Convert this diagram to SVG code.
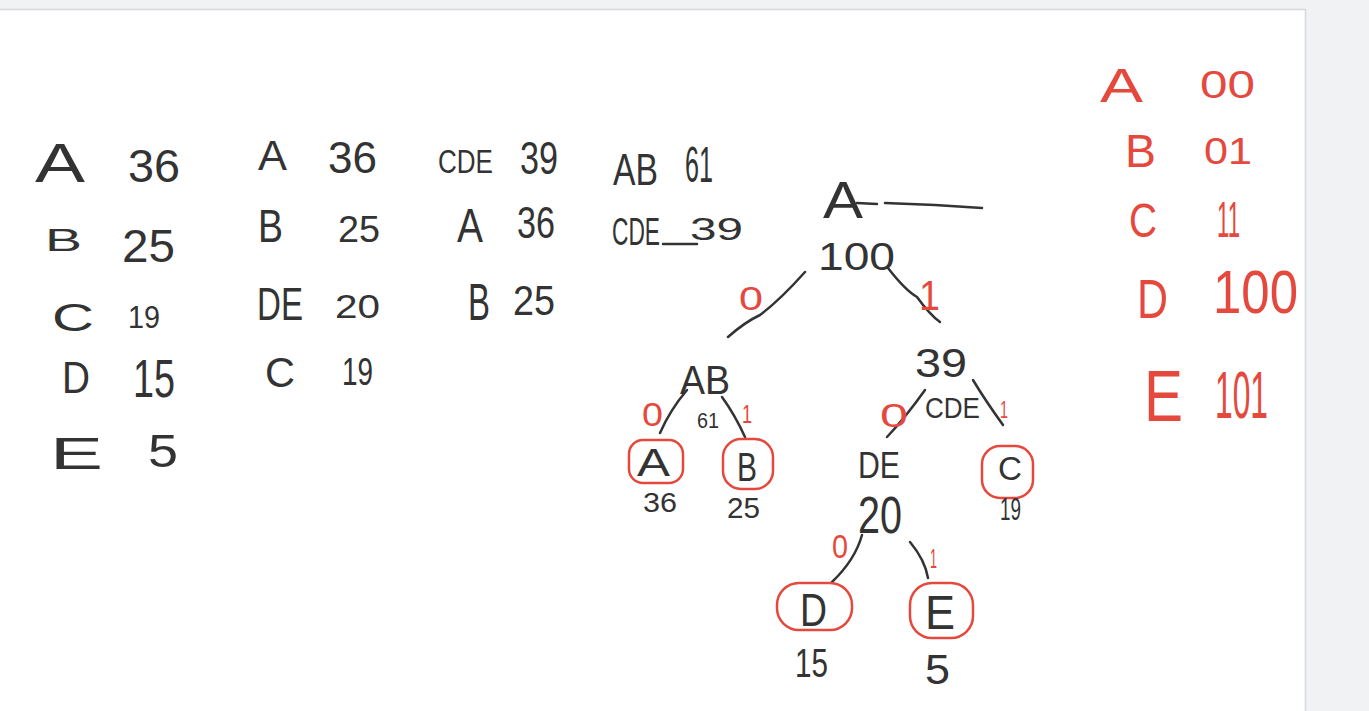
<svg xmlns="http://www.w3.org/2000/svg" width="1369" height="711" viewBox="0 0 1369 711">
<style>
.t{font-family:"Liberation Sans",Arial,sans-serif;fill:#333}
.r{font-family:"Liberation Sans",Arial,sans-serif;fill:#e5483d}
.e{fill:none;stroke:#333;stroke-width:2.5;stroke-linecap:round;stroke-linejoin:round}
.c{fill:none;stroke:#e5483d;stroke-width:2.5;stroke-linecap:round}
</style>
<rect x="0" y="0" width="1369" height="711" fill="#f1f2f4"/>
<rect x="0" y="10" width="1305" height="701" fill="#ffffff"/>
<line x1="0" y1="9.5" x2="1306" y2="9.5" stroke="#d6d8dc" stroke-width="1.5"/>
<line x1="1305.5" y1="9" x2="1305.5" y2="711" stroke="#d6d8dc" stroke-width="1.5"/>

<g id="table1">
<text class="t" x="35" y="182" font-size="56" textLength="50" lengthAdjust="spacingAndGlyphs">A</text>
<text class="t" x="128" y="182" font-size="46" textLength="52" lengthAdjust="spacingAndGlyphs">36</text>
<text class="t" x="45" y="251" font-size="32" textLength="37" lengthAdjust="spacingAndGlyphs">B</text>
<text class="t" x="122" y="262" font-size="46" textLength="53" lengthAdjust="spacingAndGlyphs">25</text>
<text class="t" x="52" y="331" font-size="38" textLength="42" lengthAdjust="spacingAndGlyphs">C</text>
<text class="t" x="128" y="328" font-size="31" textLength="32" lengthAdjust="spacingAndGlyphs">19</text>
<text class="t" x="62" y="393" font-size="44" textLength="28" lengthAdjust="spacingAndGlyphs">D</text>
<text class="t" x="133" y="397" font-size="54" textLength="42" lengthAdjust="spacingAndGlyphs">15</text>
<text class="t" x="50" y="469" font-size="44" textLength="53" lengthAdjust="spacingAndGlyphs">E</text>
<text class="t" x="148" y="467" font-size="47" textLength="30" lengthAdjust="spacingAndGlyphs">5</text>
</g>

<g id="table2">
<text class="t" x="258" y="170" font-size="43" textLength="29" lengthAdjust="spacingAndGlyphs">A</text>
<text class="t" x="328" y="173" font-size="44" textLength="49" lengthAdjust="spacingAndGlyphs">36</text>
<text class="t" x="258" y="242" font-size="46" textLength="25" lengthAdjust="spacingAndGlyphs">B</text>
<text class="t" x="338" y="242" font-size="36" textLength="42" lengthAdjust="spacingAndGlyphs">25</text>
<text class="t" x="257" y="320" font-size="46" textLength="46" lengthAdjust="spacingAndGlyphs">DE</text>
<text class="t" x="335" y="318" font-size="34" textLength="45" lengthAdjust="spacingAndGlyphs">20</text>
<text class="t" x="265" y="387" font-size="43" textLength="30" lengthAdjust="spacingAndGlyphs">C</text>
<text class="t" x="342" y="385" font-size="38" textLength="31" lengthAdjust="spacingAndGlyphs">19</text>
</g>

<g id="table3">
<text class="t" x="438" y="173" font-size="34" textLength="55" lengthAdjust="spacingAndGlyphs">CDE</text>
<text class="t" x="520" y="174" font-size="46" textLength="38" lengthAdjust="spacingAndGlyphs">39</text>
<text class="t" x="457" y="242" font-size="48" textLength="26" lengthAdjust="spacingAndGlyphs">A</text>
<text class="t" x="517" y="238" font-size="44" textLength="38" lengthAdjust="spacingAndGlyphs">36</text>
<text class="t" x="468" y="320" font-size="52" textLength="22" lengthAdjust="spacingAndGlyphs">B</text>
<text class="t" x="513" y="315" font-size="43" textLength="42" lengthAdjust="spacingAndGlyphs">25</text>
</g>

<g id="table4">
<text class="t" x="613" y="185" font-size="44" textLength="45" lengthAdjust="spacingAndGlyphs">AB</text>
<text class="t" x="685" y="182" font-size="50" textLength="28" lengthAdjust="spacingAndGlyphs">61</text>
<text class="t" x="612" y="245" font-size="38" textLength="48" lengthAdjust="spacingAndGlyphs">CDE</text>
<line class="e" x1="663" y1="244" x2="697" y2="244"/>
<text class="t" x="690" y="240" font-size="32" textLength="53" lengthAdjust="spacingAndGlyphs">39</text>
</g>

<g id="connectors">
<path class="e" d="M857 203 L877 204 M885 203 L935 205 L982 208"/>
<path class="e" d="M805 272 Q780 300 760 315 Q745 322 728 337"/>
<path class="e" d="M888 268 Q905 290 917 297 Q930 315 940 322"/>
<path class="e" d="M687 390 Q670 410 660 433"/>
<path class="e" d="M722 397 Q735 415 745 437"/>
<path class="e" d="M925 390 Q905 418 887 437"/>
<path class="e" d="M973 380 Q985 400 1003 425"/>
<path class="e" d="M862 535 Q855 560 832 582"/>
<path class="e" d="M910 542 Q925 560 928 578"/>
</g>

<g id="edge-labels">
<text class="r" x="739" y="310" font-size="34" textLength="24" lengthAdjust="spacingAndGlyphs">0</text>
<text class="r" x="919" y="310" font-size="42" textLength="21" lengthAdjust="spacingAndGlyphs">1</text>
<text class="r" x="642" y="426" font-size="34" textLength="21" lengthAdjust="spacingAndGlyphs">0</text>
<text class="r" x="742" y="423" font-size="26" textLength="10" lengthAdjust="spacingAndGlyphs">1</text>
<text class="r" x="880" y="427" font-size="34" textLength="28" lengthAdjust="spacingAndGlyphs">0</text>
<text class="r" x="1000" y="418" font-size="24" textLength="8" lengthAdjust="spacingAndGlyphs">1</text>
<text class="r" x="832" y="558" font-size="34" textLength="16" lengthAdjust="spacingAndGlyphs">0</text>
<text class="r" x="930" y="568" font-size="28" textLength="7" lengthAdjust="spacingAndGlyphs">1</text>
</g>

<g id="root">
<text class="t" x="823" y="218" font-size="52" textLength="40" lengthAdjust="spacingAndGlyphs">A</text>
<text class="t" x="818" y="270" font-size="38" textLength="77" lengthAdjust="spacingAndGlyphs">100</text>
</g>

<g id="node-ab">
<text class="t" x="680" y="394" font-size="40" textLength="50" lengthAdjust="spacingAndGlyphs">AB</text>
<text class="t" x="697" y="428" font-size="22" textLength="22" lengthAdjust="spacingAndGlyphs">61</text>
</g>

<g id="node-cde">
<text class="t" x="915" y="377" font-size="40" textLength="52" lengthAdjust="spacingAndGlyphs">39</text>
<text class="t" x="925" y="418" font-size="30" textLength="55" lengthAdjust="spacingAndGlyphs">CDE</text>
</g>

<g id="node-a">
<rect class="c" x="629" y="440" width="54" height="43" rx="14"/>
<text class="t" x="637" y="476" font-size="38" textLength="33" lengthAdjust="spacingAndGlyphs">A</text>
<text class="t" x="643" y="512" font-size="28" textLength="34" lengthAdjust="spacingAndGlyphs">36</text>
</g>

<g id="node-b">
<rect class="c" x="723" y="439" width="50" height="50" rx="18"/>
<text class="t" x="737" y="481" font-size="40" textLength="20" lengthAdjust="spacingAndGlyphs">B</text>
<text class="t" x="727" y="518" font-size="30" textLength="33" lengthAdjust="spacingAndGlyphs">25</text>
</g>

<g id="node-de">
<text class="t" x="858" y="478" font-size="36" textLength="42" lengthAdjust="spacingAndGlyphs">DE</text>
<text class="t" x="858" y="533" font-size="52" textLength="44" lengthAdjust="spacingAndGlyphs">20</text>
</g>

<g id="node-c">
<rect class="c" x="982" y="446" width="51" height="52" rx="18"/>
<text class="t" x="998" y="480" font-size="34" textLength="24" lengthAdjust="spacingAndGlyphs">C</text>
<text class="t" x="1000" y="520" font-size="32" textLength="21" lengthAdjust="spacingAndGlyphs">19</text>
</g>

<g id="node-d">
<rect class="c" x="777" y="583" width="75" height="47" rx="22"/>
<text class="t" x="800" y="626" font-size="46" textLength="27" lengthAdjust="spacingAndGlyphs">D</text>
<text class="t" x="795" y="677" font-size="40" textLength="33" lengthAdjust="spacingAndGlyphs">15</text>
</g>

<g id="node-e">
<rect class="c" x="910" y="583" width="63" height="55" rx="22"/>
<text class="t" x="925" y="629" font-size="48" textLength="30" lengthAdjust="spacingAndGlyphs">E</text>
<text class="t" x="925" y="684" font-size="42" textLength="25" lengthAdjust="spacingAndGlyphs">5</text>
</g>

<g id="codes">
<text class="r" x="1100" y="102" font-size="48" textLength="43" lengthAdjust="spacingAndGlyphs">A</text>
<text class="r" x="1200" y="98" font-size="38" textLength="55" lengthAdjust="spacingAndGlyphs">00</text>
<text class="r" x="1125" y="167" font-size="46" textLength="31" lengthAdjust="spacingAndGlyphs">B</text>
<text class="r" x="1204" y="164" font-size="37" textLength="48" lengthAdjust="spacingAndGlyphs">01</text>
<text class="r" x="1129" y="237" font-size="48" textLength="28" lengthAdjust="spacingAndGlyphs">C</text>
<text class="r" x="1217" y="237" font-size="50" textLength="23" lengthAdjust="spacingAndGlyphs">11</text>
<text class="r" x="1137" y="318" font-size="55" textLength="31" lengthAdjust="spacingAndGlyphs">D</text>
<text class="r" x="1213" y="313" font-size="62" textLength="85" lengthAdjust="spacingAndGlyphs">100</text>
<text class="r" x="1144" y="421" font-size="73" textLength="39" lengthAdjust="spacingAndGlyphs">E</text>
<text class="r" x="1215" y="418" font-size="66" textLength="53" lengthAdjust="spacingAndGlyphs">101</text>
</g>
</svg>
